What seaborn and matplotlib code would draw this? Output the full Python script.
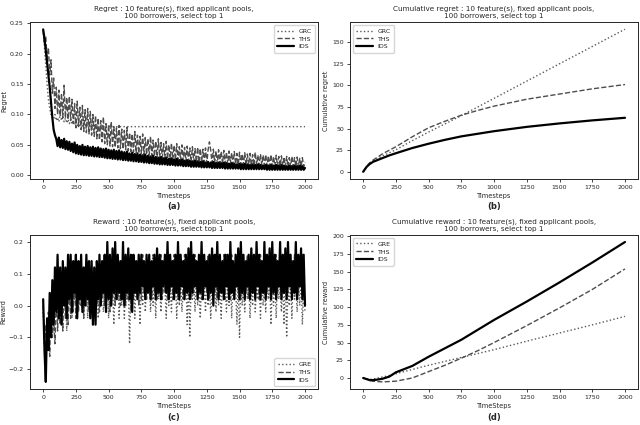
import numpy as np
import matplotlib
matplotlib.use("Agg")
import matplotlib.pyplot as plt
import seaborn as sns

sns.set_style("ticks")
plt.rcParams['font.family'] = ['DejaVu Sans']

# timesteps of the noisy per-step curves (every 10th step)
steps = np.arange(0, 2001, 10)

# ---- (a) regret per step ----
regret_grc = [
    0.24, 0.21, 0.18, 0.15, 0.125, 0.11, 0.1, 0.095, 0.092, 0.1, 0.09, 0.095, 0.088, 0.1, 0.09, 0.097, 0.088, 0.094, 0.086, 0.092,
    0.085, 0.092, 0.084, 0.09, 0.083, 0.089, 0.082, 0.088, 0.082, 0.087, 0.081, 0.086, 0.081, 0.085, 0.08, 0.085, 0.08, 0.084, 0.08, 0.083,
    0.08, 0.083, 0.08, 0.082, 0.08, 0.082, 0.08, 0.081, 0.08, 0.081, 0.08, 0.081, 0.08, 0.08, 0.08, 0.08, 0.08, 0.08, 0.08, 0.08,
    0.08, 0.08, 0.08, 0.08, 0.08, 0.08, 0.08, 0.08, 0.08, 0.08, 0.08, 0.08, 0.08, 0.08, 0.08, 0.08, 0.08, 0.08, 0.08, 0.08,
    0.08, 0.08, 0.08, 0.08, 0.08, 0.08, 0.08, 0.08, 0.08, 0.08, 0.08, 0.08, 0.08, 0.08, 0.08, 0.08, 0.08, 0.08, 0.08, 0.08,
    0.08, 0.08, 0.08, 0.08, 0.08, 0.08, 0.08, 0.08, 0.08, 0.08, 0.08, 0.08, 0.08, 0.08, 0.08, 0.08, 0.08, 0.08, 0.08, 0.08,
    0.08, 0.08, 0.08, 0.08, 0.08, 0.08, 0.08, 0.08, 0.08, 0.08, 0.08, 0.08, 0.08, 0.08, 0.08, 0.08, 0.08, 0.08, 0.08, 0.08,
    0.08, 0.08, 0.08, 0.08, 0.08, 0.08, 0.08, 0.08, 0.08, 0.08, 0.08, 0.08, 0.08, 0.08, 0.08, 0.08, 0.08, 0.08, 0.08, 0.08,
    0.08, 0.08, 0.08, 0.08, 0.08, 0.08, 0.08, 0.08, 0.08, 0.08, 0.08, 0.08, 0.08, 0.08, 0.08, 0.08, 0.08, 0.08, 0.08, 0.08,
    0.08, 0.08, 0.08, 0.08, 0.08, 0.08, 0.08, 0.08, 0.08, 0.08, 0.08, 0.08, 0.08, 0.08, 0.08, 0.08, 0.08, 0.08, 0.08, 0.08,
    0.08]

regret_ths = [
    0.238, 0.215, 0.228, 0.19, 0.21, 0.165, 0.19, 0.135, 0.16, 0.11, 0.145, 0.1, 0.14, 0.098, 0.135, 0.095, 0.148, 0.094, 0.128, 0.092,
    0.13, 0.09, 0.125, 0.085, 0.118, 0.078, 0.122, 0.08, 0.112, 0.075, 0.115, 0.072, 0.108, 0.07, 0.11, 0.068, 0.105, 0.066, 0.1, 0.064,
    0.098, 0.06, 0.094, 0.058, 0.09, 0.055, 0.096, 0.052, 0.085, 0.05, 0.083, 0.048, 0.088, 0.047, 0.08, 0.046, 0.078, 0.045, 0.082, 0.044,
    0.076, 0.043, 0.074, 0.042, 0.079, 0.04, 0.07, 0.039, 0.068, 0.038, 0.072, 0.037, 0.066, 0.036, 0.064, 0.035, 0.068, 0.034, 0.062, 0.034,
    0.06, 0.033, 0.064, 0.032, 0.058, 0.031, 0.056, 0.03, 0.06, 0.029, 0.054, 0.029, 0.052, 0.028, 0.056, 0.027, 0.05, 0.027, 0.053, 0.026,
    0.049, 0.025, 0.052, 0.025, 0.047, 0.024, 0.05, 0.024, 0.046, 0.023, 0.048, 0.023, 0.045, 0.022, 0.047, 0.022, 0.044, 0.022, 0.046, 0.021,
    0.044, 0.021, 0.043, 0.021, 0.045, 0.02, 0.042, 0.055, 0.041, 0.02, 0.043, 0.02, 0.04, 0.019, 0.042, 0.019, 0.039, 0.019, 0.041, 0.019,
    0.038, 0.018, 0.04, 0.018, 0.037, 0.018, 0.039, 0.018, 0.036, 0.017, 0.038, 0.017, 0.035, 0.017, 0.037, 0.017, 0.035, 0.017, 0.036, 0.016,
    0.034, 0.016, 0.038, 0.016, 0.033, 0.016, 0.035, 0.016, 0.033, 0.016, 0.034, 0.015, 0.032, 0.015, 0.034, 0.015, 0.031, 0.015, 0.033, 0.015,
    0.031, 0.015, 0.032, 0.015, 0.03, 0.014, 0.031, 0.014, 0.029, 0.014, 0.031, 0.014, 0.029, 0.014, 0.03, 0.014, 0.028, 0.014, 0.029, 0.014,
    0.022]

regret_ids = [
    0.24, 0.225, 0.205, 0.185, 0.165, 0.145, 0.12, 0.095, 0.075, 0.066, 0.06, 0.048, 0.062, 0.046, 0.058, 0.045, 0.06, 0.043, 0.056, 0.042,
    0.055, 0.04, 0.052, 0.038, 0.054, 0.036, 0.05, 0.035, 0.048, 0.034, 0.05, 0.033, 0.047, 0.033, 0.048, 0.032, 0.046, 0.032, 0.047, 0.031,
    0.045, 0.031, 0.046, 0.03, 0.044, 0.03, 0.043, 0.029, 0.044, 0.028, 0.042, 0.028, 0.041, 0.027, 0.042, 0.027, 0.04, 0.026, 0.041, 0.026,
    0.039, 0.025, 0.038, 0.025, 0.039, 0.024, 0.036, 0.024, 0.037, 0.023, 0.035, 0.023, 0.036, 0.022, 0.034, 0.022, 0.033, 0.021, 0.034, 0.021,
    0.032, 0.02, 0.031, 0.02, 0.032, 0.019, 0.03, 0.019, 0.029, 0.018, 0.03, 0.018, 0.028, 0.018, 0.029, 0.017, 0.027, 0.017, 0.028, 0.017,
    0.026, 0.016, 0.027, 0.016, 0.025, 0.016, 0.026, 0.015, 0.024, 0.015, 0.025, 0.015, 0.024, 0.014, 0.023, 0.014, 0.024, 0.014, 0.023, 0.014,
    0.022, 0.013, 0.023, 0.013, 0.021, 0.013, 0.022, 0.013, 0.021, 0.012, 0.022, 0.012, 0.02, 0.012, 0.021, 0.012, 0.02, 0.012, 0.021, 0.011,
    0.02, 0.011, 0.019, 0.011, 0.02, 0.011, 0.019, 0.011, 0.018, 0.011, 0.019, 0.01, 0.018, 0.01, 0.019, 0.01, 0.018, 0.01, 0.017, 0.01,
    0.018, 0.01, 0.017, 0.01, 0.018, 0.01, 0.017, 0.01, 0.016, 0.01, 0.017, 0.009, 0.016, 0.009, 0.017, 0.009, 0.016, 0.009, 0.017, 0.009,
    0.016, 0.009, 0.017, 0.009, 0.016, 0.009, 0.015, 0.009, 0.016, 0.009, 0.015, 0.009, 0.016, 0.009, 0.015, 0.009, 0.016, 0.009, 0.015, 0.009,
    0.012]

# ---- (c) reward per step ----
reward_gre = [
    -0.02, -0.1, -0.14, -0.06, -0.12, -0.02, -0.08, 0.04, -0.04, 0.08, -0.02, 0.1, 0.0, 0.08, -0.06, 0.1, 0.02, 0.06, -0.08, 0.08,
    0.0, 0.1, -0.04, 0.08, 0.02, 0.06, -0.04, 0.1, 0.0, 0.08, -0.02, 0.06, 0.04, 0.1, -0.04, 0.08, 0.0, 0.06, -0.06, 0.08,
    0.02, 0.1, -0.04, 0.06, 0.0, 0.08, -0.02, 0.06, 0.04, 0.1, -0.04, 0.08, 0.0, 0.06, -0.06, 0.08, 0.02, 0.1, -0.04, 0.06,
    0.0, 0.08, -0.04, 0.06, 0.02, 0.08, -0.12, 0.06, 0.0, 0.1, -0.04, 0.08, 0.02, 0.06, -0.06, 0.08, 0.0, 0.1, -0.02, 0.06,
    0.04, 0.1, -0.02, 0.06, 0.0, 0.08, -0.04, 0.1, 0.02, 0.06, -0.02, 0.08, 0.04, 0.06, -0.04, 0.1, 0.0, 0.06, -0.02, 0.08,
    0.02, 0.1, -0.04, 0.06, 0.0, 0.08, -0.02, 0.06, 0.04, 0.1, -0.06, 0.08, -0.1, 0.06, 0.02, 0.08, -0.02, 0.1, 0.0, 0.06,
    -0.04, 0.08, 0.02, 0.06, -0.02, 0.1, 0.0, 0.08, -0.04, 0.06, 0.02, 0.12, -0.02, 0.08, 0.0, 0.06, -0.04, 0.1, 0.02, 0.08,
    -0.02, 0.06, 0.0, 0.1, -0.04, 0.08, 0.02, 0.06, -0.06, 0.08, -0.1, 0.1, 0.0, 0.06, -0.02, 0.08, 0.02, 0.1, -0.04, 0.06,
    0.0, 0.12, -0.02, 0.06, 0.02, 0.08, -0.04, 0.1, 0.0, 0.06, -0.02, 0.08, 0.02, 0.1, -0.06, 0.06, 0.0, 0.08, -0.04, 0.1,
    0.02, 0.06, -0.02, 0.08, -0.06, 0.1, -0.1, 0.06, 0.0, 0.08, -0.04, 0.1, 0.02, 0.06, -0.02, 0.08, 0.0, 0.1, -0.06, 0.06,
    -0.02]

reward_ths = [
    0.0, -0.12, -0.06, -0.14, -0.02, -0.16, 0.02, -0.1, -0.04, -0.12, 0.04, -0.08, 0.06, -0.06, 0.02, -0.08, 0.08, -0.04, 0.06, -0.06,
    0.08, -0.04, 0.06, -0.02, 0.1, -0.04, 0.08, -0.02, 0.1, 0.0, 0.08, -0.04, 0.12, 0.0, 0.1, -0.02, 0.12, 0.0, 0.08, -0.02,
    0.12, 0.0, 0.1, -0.02, 0.12, 0.02, 0.1, 0.0, 0.14, 0.02, 0.1, -0.02, 0.12, 0.02, 0.14, 0.0, 0.12, 0.02, 0.1, 0.0,
    0.14, 0.02, 0.12, 0.0, 0.14, 0.02, 0.12, -0.02, 0.16, 0.02, 0.12, 0.04, 0.14, 0.0, 0.12, 0.02, 0.16, 0.04, 0.12, 0.02,
    0.14, 0.04, 0.12, 0.02, 0.16, 0.04, 0.14, 0.02, 0.12, 0.04, 0.16, 0.02, 0.14, 0.04, 0.12, 0.02, 0.16, 0.04, 0.14, 0.02,
    0.16, 0.04, 0.14, 0.02, 0.16, 0.06, 0.12, 0.02, 0.16, 0.04, 0.14, 0.06, 0.16, 0.02, 0.14, 0.04, 0.16, 0.06, 0.12, 0.04,
    0.14, 0.02, 0.16, 0.06, 0.12, 0.04, 0.16, 0.02, 0.14, 0.06, 0.16, 0.04, 0.12, 0.02, 0.16, 0.06, 0.14, 0.04, 0.16, 0.02,
    0.16, 0.06, 0.14, 0.02, 0.16, 0.04, 0.12, 0.06, 0.16, 0.04, 0.14, 0.02, 0.16, 0.06, 0.14, 0.04, 0.16, 0.02, 0.14, 0.06,
    0.16, 0.04, 0.14, 0.06, 0.16, 0.02, 0.16, 0.04, 0.14, 0.06, 0.16, 0.04, 0.12, 0.06, 0.16, 0.04, 0.14, 0.06, 0.16, 0.04,
    0.14, 0.06, 0.16, 0.04, 0.16, 0.06, 0.14, 0.04, 0.16, 0.06, 0.14, 0.04, 0.16, 0.06, 0.16, 0.04, 0.14, 0.06, 0.16, 0.04,
    0.02]

reward_ids = [
    0.02, -0.14, -0.24, -0.04, -0.14, 0.04, -0.1, 0.08, -0.06, 0.12, -0.02, 0.16, -0.04, 0.12, -0.06, 0.14, 0.0, 0.12, -0.04, 0.16,
    0.02, 0.16, -0.02, 0.14, 0.04, 0.16, -0.04, 0.14, 0.02, 0.16, -0.02, 0.12, 0.0, 0.16, 0.02, 0.14, -0.04, 0.14, -0.06, 0.12,
    -0.06, 0.14, 0.02, 0.16, 0.0, 0.14, 0.04, 0.16, -0.02, 0.2, 0.02, 0.16, 0.0, 0.18, 0.04, 0.2, 0.02, 0.16, 0.04, 0.14,
    0.02, 0.2, 0.0, 0.16, 0.04, 0.18, 0.02, 0.16, -0.02, 0.16, 0.04, 0.14, 0.02, 0.16, 0.04, 0.16, 0.06, 0.14, 0.02, 0.16,
    0.04, 0.16, 0.02, 0.14, 0.06, 0.16, 0.02, 0.18, 0.04, 0.16, 0.02, 0.14, 0.06, 0.16, 0.04, 0.2, 0.02, 0.16, 0.06, 0.14,
    0.02, 0.16, 0.04, 0.2, 0.02, 0.16, 0.06, 0.14, 0.02, 0.16, 0.04, 0.18, 0.02, 0.2, 0.04, 0.16, 0.06, 0.14, 0.02, 0.16,
    0.04, 0.2, 0.02, 0.16, 0.06, 0.14, 0.02, 0.16, 0.04, 0.18, 0.0, 0.16, 0.06, 0.2, 0.02, 0.16, 0.04, 0.14, 0.02, 0.16,
    0.06, 0.16, 0.02, 0.2, 0.04, 0.14, 0.02, 0.16, 0.06, 0.18, 0.02, 0.2, 0.04, 0.16, 0.02, 0.14, 0.06, 0.16, 0.02, 0.18,
    0.04, 0.16, 0.02, 0.2, 0.06, 0.16, 0.02, 0.14, 0.04, 0.2, 0.02, 0.16, 0.06, 0.18, 0.02, 0.2, 0.04, 0.16, 0.02, 0.14,
    0.06, 0.2, 0.02, 0.16, 0.04, 0.18, 0.02, 0.2, 0.06, 0.16, 0.02, 0.14, 0.04, 0.2, 0.02, 0.16, 0.06, 0.18, 0.02, 0.16,
    0.0]

# ---- (b), (d) cumulative curves, read at a few timesteps ----
cum_steps = [0, 25, 50, 75, 100, 150, 200, 250, 375, 500, 625, 750, 875, 1000, 1250, 1500, 1750, 2000]
cum_regret_grc = [0, 5.5, 9.5, 12.5, 14.5, 18.5, 22, 25.5, 36, 46, 55.5, 65, 75, 85, 105, 125, 145, 165]
cum_regret_ths = [0, 5.8, 10.5, 13.5, 16, 21, 25, 29, 40.5, 51, 58.5, 65.5, 71, 76, 84, 90, 96, 101]
cum_regret_ids = [0, 5.5, 9, 11.5, 13, 16, 19, 21.5, 27.5, 32.5, 37, 41, 44, 47, 52, 56, 59.5, 62.5]
cum_reward_gre = [0, -1, -2, -1.5, -0.5, 1.5, 3.5, 6, 12, 18, 23.5, 29, 34.5, 40, 52, 63.5, 75, 87]
cum_reward_ths = [0, -1.5, -3.5, -4.5, -5, -5.5, -5, -4.5, 0, 9, 18, 28, 38.5, 50, 74, 99, 125, 154]
cum_reward_ids = [0, -1.5, -3, -3, -2.5, -1, 2, 8, 17, 30, 42, 54, 68, 82, 108, 135, 163, 192]

sub = "10 feature(s), fixed applicant pools,\n100 borrowers, select top 1"

# line styles per method
styles = {
    "GRC": dict(color="0.35", linestyle=":", linewidth=1.0),
    "THS": dict(color="0.3", linestyle="--", linewidth=1.0),
    "IDS": dict(color="black", linestyle="-", linewidth=1.6),
}

fig = plt.figure(figsize=(6.4, 4.25), dpi=100)
ax_a = fig.add_axes([0.047, 0.579, 0.450, 0.369])
ax_b = fig.add_axes([0.547, 0.579, 0.450, 0.369])
ax_c = fig.add_axes([0.047, 0.085, 0.450, 0.362])
ax_d = fig.add_axes([0.547, 0.085, 0.450, 0.362])


def draw(ax, x, series, names, title, xlabel, ylabel, loc):
    for y, name in zip(series, names):
        sns.lineplot(x=x, y=y, ax=ax, label=name, **styles[name if name != "GRE" else "GRC"])
    ax.set_title(title, fontsize=5.2, pad=3, linespacing=1.25)
    ax.set_xlabel(xlabel, fontsize=4.8, labelpad=2)
    ax.set_ylabel(ylabel, fontsize=4.8, labelpad=2)
    ax.set_xticks([0, 250, 500, 750, 1000, 1250, 1500, 1750, 2000])
    ax.tick_params(labelsize=4.5, length=2.5, width=0.6, pad=2)
    for s in ax.spines.values():
        s.set_linewidth(0.7)
    ax.legend(loc=loc, fontsize=4.5, handlelength=2.6, borderpad=0.5, labelspacing=0.4)


draw(ax_a, steps, [regret_grc, regret_ths, regret_ids], ["GRC", "THS", "IDS"],
     "Regret : " + sub, "Timesteps", "Regret", "upper right")
ax_a.set_ylim(-0.006, 0.252)

draw(ax_b, cum_steps, [cum_regret_grc, cum_regret_ths, cum_regret_ids], ["GRC", "THS", "IDS"],
     "Cumulative regret : " + sub, "Timesteps", "Cumulative regret", "upper left")

draw(ax_c, steps, [reward_gre, reward_ths, reward_ids], ["GRE", "THS", "IDS"],
     "Reward : " + sub, "TimeSteps", "Reward", "lower right")
ax_c.set_ylim(-0.262, 0.222)

draw(ax_d, cum_steps, [cum_reward_gre, cum_reward_ths, cum_reward_ids], ["GRE", "THS", "IDS"],
     "Cumulative reward : " + sub, "TimeSteps", "Cumulative reward", "upper left")
ax_d.set_yticks([0, 25, 50, 75, 100, 125, 150, 175, 200])

for ax, lab, y in [(ax_a, "(a)", 0.513), (ax_b, "(b)", 0.513), (ax_c, "(c)", 0.017), (ax_d, "(d)", 0.017)]:
    pos = ax.get_position()
    fig.text((pos.x0 + pos.x1) / 2, y, lab, ha="center", va="center", fontsize=6, fontweight="bold")

fig.savefig("out.png", dpi=100)
